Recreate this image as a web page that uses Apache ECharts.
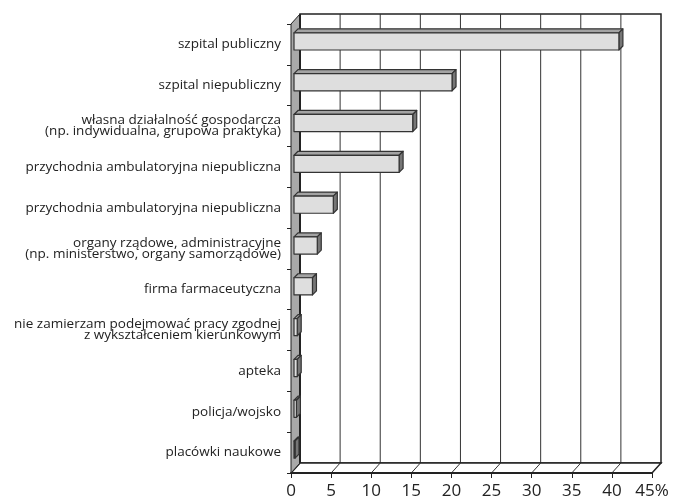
<!DOCTYPE html>
<html>
<head>
<meta charset="utf-8">
<script src="https://cdn.jsdelivr.net/npm/echarts@6/dist/echarts.min.js"></script>
<style>
  html, body { margin: 0; padding: 0; background: #fff; }
  #chart { width: 673px; height: 503px; }
</style>
</head>
<body>
<div id="chart"></div>
<script>
// kategorie (od góry)
const categories = [
  "szpital publiczny",
  "szpital niepubliczny",
  "własna działalność gospodarcza\n(np. indywidualna, grupowa praktyka)",
  "przychodnia ambulatoryjna niepubliczna",
  "przychodnia ambulatoryjna niepubliczna",
  "organy rządowe, administracyjne\n(np. ministerstwo, organy samorządowe)",
  "firma farmaceutyczna",
  "nie zamierzam podejmować pracy zgodnej\nz wykształceniem kierunkowym",
  "apteka",
  "policja/wojsko",
  "placówki naukowe"
];
// odsetek odpowiedzi (%)
const values = [40.5, 19.7, 14.8, 13.1, 4.9, 2.9, 2.3, 0.4, 0.4, 0.3, 0.1];
// oś X
const xMin = 0;
const xMax = 45;
const xStep = 5;

const DX = 9, DY = -10; // głębokość "3D"

const chart = echarts.init(document.getElementById("chart"));

function renderFrame(params, api) {
  const cs = params.coordSys;
  const x0 = cs.x, y0 = cs.y, w = cs.width, h = cs.height;
  const yb = y0 + h;
  const children = [];
  // tylna ściana
  children.push({
    type: "rect",
    shape: { x: x0 + DX, y: y0 + DY, width: w, height: h },
    style: { fill: "#fff", stroke: "#222", lineWidth: 1.5 }
  });
  for (let v = xMin + xStep; v < xMax; v += xStep) {
    const x = api.coord([v, 0])[0];
    children.push({
      type: "line",
      shape: { x1: x + DX, y1: y0 + DY, x2: x + DX, y2: yb + DY },
      style: { stroke: "#333", lineWidth: 1 }
    });
  }
  // podłoga
  children.push({
    type: "polygon",
    shape: { points: [[x0, yb], [x0 + w, yb], [x0 + w + DX, yb + DY], [x0 + DX, yb + DY]] },
    style: { fill: "#fff", stroke: "#222", lineWidth: 1.5 }
  });
  for (let v = xMin + xStep; v < xMax; v += xStep) {
    const x = api.coord([v, 0])[0];
    children.push({
      type: "line",
      shape: { x1: x, y1: yb, x2: x + DX, y2: yb + DY },
      style: { stroke: "#333", lineWidth: 1 }
    });
  }
  // lewa ściana
  children.push({
    type: "polygon",
    shape: { points: [[x0, yb], [x0, y0], [x0 + DX, y0 + DY], [x0 + DX, yb + DY]] },
    style: { fill: "#a9a9a9", stroke: "#222", lineWidth: 1 }
  });
  children.push({
    type: "line",
    shape: { x1: x0 + DX, y1: y0 + DY, x2: x0 + DX, y2: yb + DY },
    style: { stroke: "#222", lineWidth: 2 }
  });
  children.push({
    type: "line",
    shape: { x1: x0, y1: yb, x2: x0 + w, y2: yb },
    style: { stroke: "#222", lineWidth: 1.8 }
  });
  return { type: "group", children };
}

function renderBar(params, api) {
  const v = api.value(0), c = api.value(1);
  const p0 = api.coord([0, c]);
  const p1 = api.coord([v, c]);
  const band = api.size([0, 1])[1];
  const hh = band * 0.42;
  const fx = 3, fy = -3, dx = 4, dy = -4;
  const x = p0[0] + fx, y = p0[1] + fy - hh / 2;
  const w = Math.max(p1[0] - p0[0], 1);
  const st = { stroke: "#333", lineWidth: 1.2, lineJoin: "round" };
  return {
    type: "group",
    children: [
      { type: "polygon", shape: { points: [[x, y], [x + w, y], [x + w + dx, y + dy], [x + dx, y + dy]] },
        style: Object.assign({ fill: "#a3a3a3" }, st) },
      { type: "polygon", shape: { points: [[x + w, y], [x + w + dx, y + dy], [x + w + dx, y + dy + hh], [x + w, y + hh]] },
        style: Object.assign({ fill: "#767676" }, st) },
      { type: "rect", shape: { x: x, y: y, width: w, height: hh },
        style: Object.assign({ fill: "#dedede" }, st) }
    ]
  };
}

const option = {
  animation: false,
  grid: { left: 291, right: 21, top: 24, bottom: 30 },
  xAxis: {
    type: "value",
    min: xMin,
    max: xMax,
    interval: xStep,
    axisLine: { show: true, lineStyle: { color: "#222", width: 1.5 } },
    axisTick: { show: true, length: 5, lineStyle: { color: "#222" } },
    splitLine: { show: false },
    axisLabel: {
      fontFamily: "Open Sans",
      fontSize: 17,
      color: "#222",
      margin: 10,
      formatter: (v) => (v === xMax ? v + "%" : String(v))
    }
  },
  yAxis: {
    type: "category",
    inverse: true,
    data: categories,
    axisLine: { show: false },
    axisTick: { show: true, length: 4, lineStyle: { color: "#222" } },
    axisLabel: {
      fontFamily: "Open Sans",
      fontSize: 13.5,
      lineHeight: 11,
      color: "#222",
      margin: 10,
      align: "right"
    }
  },
  series: [
    {
      type: "custom",
      name: "frame",
      silent: true,
      data: [[0, 0]],
      renderItem: renderFrame,
      z: 1
    },
    {
      type: "custom",
      name: "bars",
      silent: true,
      data: values.map((v, i) => [v, i]),
      encode: { x: 0, y: 1 },
      renderItem: renderBar,
      z: 3
    }
  ]
};

chart.setOption(option);
</script>
</body>
</html>
